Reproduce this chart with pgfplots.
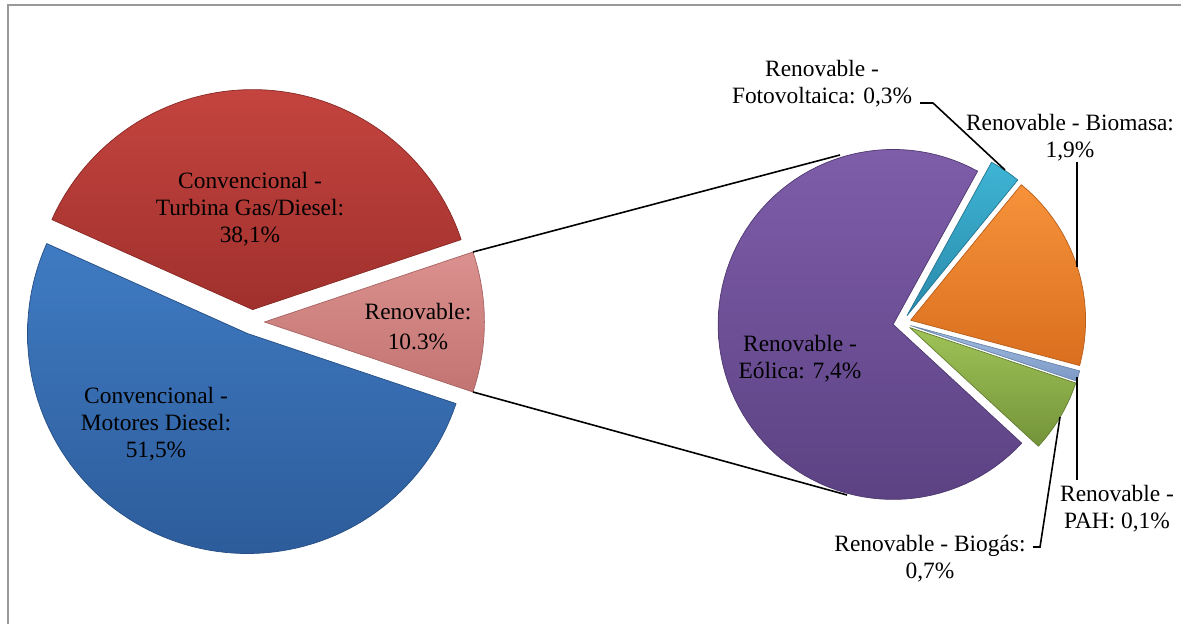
\documentclass[border=0pt]{standalone}
\usepackage{fontspec}
\setmainfont{Liberation Serif}
\usepackage{pgfplots}
\usepackage{pgfplotstable}
\pgfplotsset{compat=1.18}

% main pie (percent of total)
\pgfplotstableread{
label      value
Turbina    38.1
Motores    51.5
Renovable  10.3
}\maintable
% second pie (breakdown of Renovable)
\pgfplotstableread{
label         value
Biogas        0.7
PAH           0.1
Biomasa       1.9
Fotovoltaica  0.3
Eolica        7.4
}\subtable

\pgfplotstablegetelem{0}{value}\of\maintable \let\vT\pgfplotsretval
\pgfplotstablegetelem{1}{value}\of\maintable \let\vM\pgfplotsretval
\pgfplotstablegetelem{2}{value}\of\maintable \let\vR\pgfplotsretval
\pgfplotstablegetelem{0}{value}\of\subtable \let\vBg\pgfplotsretval
\pgfplotstablegetelem{1}{value}\of\subtable \let\vPa\pgfplotsretval
\pgfplotstablegetelem{2}{value}\of\subtable \let\vBm\pgfplotsretval
\pgfplotstablegetelem{3}{value}\of\subtable \let\vFv\pgfplotsretval
\pgfplotstablegetelem{4}{value}\of\subtable \let\vEo\pgfplotsretval

% angles, main pie
\pgfmathsetmacro\totA{\vT+\vM+\vR}
\pgfmathsetmacro\aRa{-\vR/\totA*180}
\pgfmathsetmacro\aRb{\vR/\totA*180}
\pgfmathsetmacro\aTb{\aRb+\vT/\totA*360}
\pgfmathsetmacro\aMb{360+\aRa}
% angles, second pie (counter-clockwise from green)
\pgfmathsetmacro\totB{\vBg+\vPa+\vBm+\vFv+\vEo}
\pgfmathsetmacro\sA{-42.7}
\pgfmathsetmacro\sB{\sA+\vBg/\totB*360}
\pgfmathsetmacro\sC{\sB+\vPa/\totB*360}
\pgfmathsetmacro\sD{\sC+\vBm/\totB*360}
\pgfmathsetmacro\sE{\sD+\vFv/\totB*360}
\pgfmathsetmacro\sF{\sE+\vEo/\totB*360}

\newcommand\pieslice[7]{% cx, cy, r, a1, a2, explode, style
  \pgfmathsetmacro\midA{(#4+#5)/2}%
  \pgfmathsetmacro\ox{#1+#6*cos(\midA)}%
  \pgfmathsetmacro\oy{#2+#6*sin(\midA)}%
  \edef\tmp{\noexpand\addplot[#7, domain=#4:#5, samples=90, variable=\noexpand\t, line width=0.35pt, line join=round]
    ({\ox+#3*cos(\noexpand\t)},{\oy+#3*sin(\noexpand\t)}) -- (axis cs:\ox,\oy) -- cycle;}%
  \tmp
}

\definecolor{redT}{HTML}{C4443F}\definecolor{redB}{HTML}{A0302D}
\definecolor{bluT}{HTML}{3F7BC2}\definecolor{bluB}{HTML}{2D5C9B}
\definecolor{pinT}{HTML}{DB918F}\definecolor{pinB}{HTML}{C27472}
\definecolor{purT}{HTML}{7E5DA9}\definecolor{purB}{HTML}{5C4283}
\definecolor{cyaT}{HTML}{3EB4D4}\definecolor{cyaB}{HTML}{2A8AAB}
\definecolor{oraT}{HTML}{F7923A}\definecolor{oraB}{HTML}{D96F1F}
\definecolor{lbuT}{HTML}{A2BEE2}\definecolor{lbuB}{HTML}{7C99C6}
\definecolor{greT}{HTML}{9FC357}\definecolor{greB}{HTML}{74933A}

\newcommand\lbl{\fontsize{11.7}{13.5}\selectfont}

\begin{document}
\begin{tikzpicture}
\begin{axis}[
  x=0.5pt, y=0.5pt,
  xmin=0, xmax=1181, ymin=0, ymax=624,
  hide axis, clip=false,
]
% frame
\draw[gray!80, line width=0.75pt] (axis cs:8,0) -- (axis cs:8,619) -- (axis cs:1181,619);

% main pie
\pieslice{252}{302}{220}{\aRb}{\aTb}{12.4}{top color=redT, bottom color=redB, draw=redB!85!black}
\pieslice{252}{302}{220}{\aTb}{\aMb}{12.4}{top color=bluT, bottom color=bluB, draw=bluB!85!black}
\pieslice{252}{302}{220}{\aRa}{\aRb}{12.4}{top color=pinT, bottom color=pinB, draw=pinB!85!black}

% second pie
\pieslice{902}{301}{175}{\sA}{\sB}{9}{top color=greT, bottom color=greB, draw=greB!85!black}
\pieslice{902}{301}{175}{\sB}{\sC}{9}{top color=lbuT, bottom color=lbuB, draw=lbuB!85!black}
\pieslice{902}{301}{175}{\sC}{\sD}{9}{top color=oraT, bottom color=oraB, draw=oraB!85!black}
\pieslice{902}{301}{175}{\sD}{\sE}{9}{top color=cyaT, bottom color=cyaB, draw=cyaB!85!black}
\pieslice{902}{301}{175}{\sE}{\sF}{9}{top color=purT, bottom color=purB, draw=purB!85!black}

% connector lines
\addplot[black, line width=0.8pt] coordinates {(473,372) (840,469)};
\addplot[black, line width=0.8pt] coordinates {(473,232) (847,129)};

% leader lines
\addplot[black, line width=0.8pt] coordinates {(920,521) (933,521) (1005,454)};
\addplot[black, line width=0.8pt] coordinates {(1077,462) (1077,357)};
\addplot[black, line width=0.8pt] coordinates {(1077,247) (1077,144)};
\addplot[black, line width=0.8pt] coordinates {(1033,77) (1040,77) (1060,207)};

% labels
\node[align=center, font=\lbl, inner sep=0pt] at (axis cs:250,415) {Convencional -\\Turbina Gas/Diesel:\\38,1\%};
\node[align=center, font=\lbl, inner sep=0pt] at (axis cs:156,200) {Convencional -\\Motores Diesel:\\51,5\%};
\node[align=center, font=\fontsize{11.7}{15}\selectfont, inner sep=0pt] at (axis cs:418,297) {Renovable:\\10.3\%};
\node[align=center, font=\lbl, inner sep=0pt] at (axis cs:800,265.5) {Renovable -\\Eólica: 7,4\%};
\node[align=center, font=\lbl, inner sep=0pt] at (axis cs:822,540) {Renovable -\\Fotovoltaica: 0,3\%};
\node[align=center, font=\lbl, inner sep=0pt] at (axis cs:1070,486.5) {Renovable - Biomasa:\\1,9\%};
\node[align=center, font=\lbl, inner sep=0pt] at (axis cs:1117,115) {Renovable -\\PAH: 0,1\%};
\node[align=center, font=\lbl, inner sep=0pt] at (axis cs:930,65.5) {Renovable - Biogás:\\0,7\%};
\end{axis}
\pgfresetboundingbox
\path[use as bounding box] (0,0) rectangle (590.5pt,312pt);
\end{tikzpicture}
\end{document}
